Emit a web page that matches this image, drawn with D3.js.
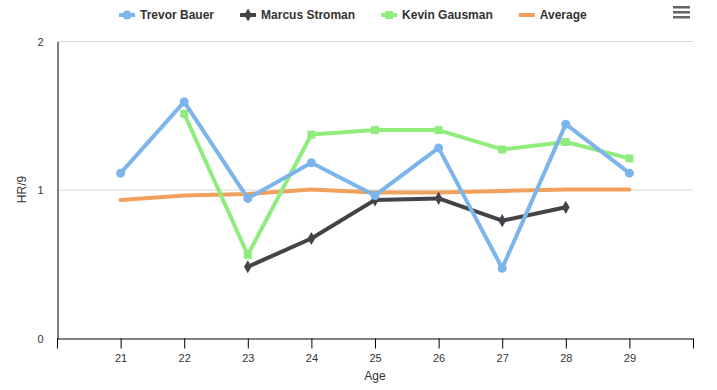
<!DOCTYPE html>
<html>
<head>
<meta charset="utf-8">
<script src="https://cdn.jsdelivr.net/npm/d3@7"></script>
<style>
  body { margin: 0; background: #fff; }
  text { font-family: "Liberation Sans", Arial, sans-serif; }
</style>
</head>
<body>
<div class="chartDiv"></div>
<script>
var ages = [21, 22, 23, 24, 25, 26, 27, 28, 29];
var bauer = [1.11, 1.59, 0.94, 1.18, 0.96, 1.28, 0.47, 1.44, 1.11];
var stroman = [null, null, 0.48, 0.67, 0.93, 0.94, 0.79, 0.88, null];
var gausman = [null, 1.51, 0.56, 1.37, 1.40, 1.40, 1.27, 1.32, 1.21];
var average = [0.93, 0.96, 0.97, 1.00, 0.98, 0.98, 0.99, 1.00, 1.00];
var yTicks = [0, 1, 2];
var seriesNames = ["Trevor Bauer", "Marcus Stroman", "Kevin Gausman", "Average"];

var width = 717, height = 390;
var plotLeft = 57, plotRight = 693, plotTop = 41, plotBottom = 338;

var svg = d3.select(".chartDiv").append("svg")
    .attr("width", width)
    .attr("height", height);

var x = d3.scaleLinear().domain([20, 30]).range([plotLeft, plotRight]);
var y = d3.scaleLinear().domain([0, 2]).range([plotBottom, plotTop]);

// grid lines
svg.append("g").selectAll("line")
    .data(yTicks.filter(function(d) { return d > 0; }))
    .enter().append("line")
    .attr("x1", plotLeft)
    .attr("x2", plotRight)
    .attr("y1", function(d) { return y(d) + 0.5; })
    .attr("y2", function(d) { return y(d) + 0.5; })
    .attr("stroke", "#d8d8d8")
    .attr("stroke-width", 1);

// y axis
var yAxis = svg.append("g")
    .attr("transform", "translate(" + (plotLeft + 0.5) + ",0.5)")
    .call(d3.axisLeft(y).tickValues(yTicks).tickSize(0).tickPadding(14).tickFormat(d3.format("d")));
yAxis.select(".domain").attr("stroke", "#000");
yAxis.selectAll("text").attr("font-size", 11).attr("fill", "#333").attr("dy", "0.32em");

// x axis
var xAxis = svg.append("g")
    .attr("transform", "translate(0," + (plotBottom + 0.5) + ")")
    .call(d3.axisBottom(x).ticks(10).tickSize(10).tickSizeOuter(0).tickPadding(6)
        .tickFormat(function(d) { return (d > 20 && d < 30) ? d : ""; }));
xAxis.select(".domain").attr("stroke", "#000");
xAxis.selectAll(".tick line").attr("stroke", "#000");
xAxis.selectAll("text").attr("font-size", 11).attr("fill", "#333");

svg.append("text")
    .attr("x", (plotLeft + plotRight) / 2)
    .attr("y", 380)
    .attr("text-anchor", "middle")
    .attr("font-size", 12)
    .attr("fill", "#333")
    .text("Age");

svg.append("text")
    .attr("transform", "translate(26," + y(1) + ") rotate(-90)")
    .attr("text-anchor", "middle")
    .attr("font-size", 12)
    .attr("fill", "#333")
    .text("HR/9");

var series = [
    { name: seriesNames[0], values: bauer, color: "#7cb5ec", marker: "circle" },
    { name: seriesNames[1], values: stroman, color: "#434348", marker: "diamond" },
    { name: seriesNames[2], values: gausman, color: "#90ed7d", marker: "square" },
    { name: seriesNames[3], values: average, color: "#f0a15e", marker: null }
];

var symbolFor = { circle: d3.symbolCircle, diamond: d3.symbolDiamond, square: d3.symbolSquare };
var sizeFor = { circle: 64, diamond: 50, square: 64 };

var line = d3.line()
    .defined(function(d) { return d.v != null; })
    .x(function(d) { return x(d.a); })
    .y(function(d) { return y(d.v); });

var plot = svg.append("g");
series.slice().reverse().forEach(function(s) {
    var pts = ages.map(function(a, i) { return { a: a, v: s.values[i] }; });
    var g = plot.append("g");
    g.append("path")
        .datum(pts)
        .attr("d", line)
        .attr("fill", "none")
        .attr("stroke", s.color)
        .attr("stroke-width", 4)
        .attr("stroke-linejoin", "round")
        .attr("stroke-linecap", "round");
    if (s.marker) {
        g.selectAll("path.pt")
            .data(pts.filter(function(d) { return d.v != null; }))
            .enter().append("path")
            .attr("class", "pt")
            .attr("transform", function(d) { return "translate(" + x(d.a) + "," + y(d.v) + ")"; })
            .attr("d", d3.symbol().type(symbolFor[s.marker]).size(sizeFor[s.marker]))
            .attr("fill", s.color);
    }
});

// legend
var legend = svg.append("g");
var pos = 0;
series.forEach(function(s) {
    var item = legend.append("g").attr("transform", "translate(" + pos + ",0)");
    item.append("line")
        .attr("x1", 0).attr("x2", 16)
        .attr("y1", 0).attr("y2", 0)
        .attr("stroke", s.color)
        .attr("stroke-width", 4);
    if (s.marker) {
        item.append("path")
            .attr("transform", "translate(8,0)")
            .attr("d", d3.symbol().type(symbolFor[s.marker]).size(sizeFor[s.marker]))
            .attr("fill", s.color);
    }
    var t = item.append("text")
        .attr("x", 21)
        .attr("y", 4)
        .attr("font-size", 12)
        .attr("font-weight", "bold")
        .attr("fill", "#333")
        .text(s.name);
    pos += 21 + t.node().getComputedTextLength() + 26;
});
legend.attr("transform", "translate(119,15)");

// menu icon
var menu = svg.append("g").attr("transform", "translate(673,0)");
[7, 12, 17].forEach(function(yy) {
    menu.append("rect")
        .attr("x", 0).attr("y", yy - 1)
        .attr("width", 17).attr("height", 2.5)
        .attr("fill", "#666");
});
</script>
</body>
</html>
